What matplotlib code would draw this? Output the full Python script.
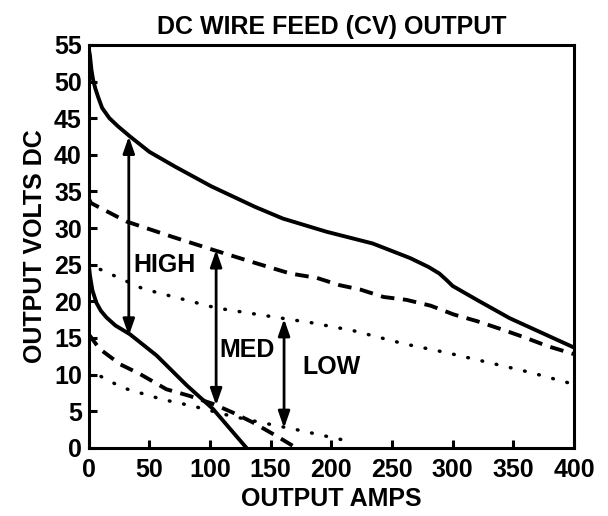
"""DC wire feed (CV) output volt-amp curves."""

import matplotlib

matplotlib.use("Agg")
import matplotlib.pyplot as plt

# HIGH range, max and min (solid)
high_max_amps = [0, 1, 2.2, 3.6, 5.5, 7.7, 11, 17, 24, 34, 50, 71, 101, 137, 160, 196, 234, 248,
                 265, 280, 289, 295, 300, 320, 347, 400]
high_max_volts = [54.5, 53.5, 51.6, 50.2, 49.0, 47.9, 46.4, 45.0, 43.9, 42.5, 40.4, 38.4, 35.7,
                  32.9, 31.3, 29.5, 27.9, 27.0, 25.9, 24.7, 23.8, 22.9, 22.1, 20.2, 17.7, 13.7]
high_min_amps = [0, 1, 3, 6.3, 10, 14.6, 22, 34, 56, 81, 102.5, 130]
high_min_volts = [25.0, 23.5, 21.5, 19.8, 18.7, 17.8, 16.7, 15.5, 12.6, 8.5, 5.3, 0]

# MED range, max and min (dashed)
med_max_amps = [0, 2, 31, 69, 103, 138, 166, 188, 207, 224, 243, 262, 282, 301, 320, 340, 359,
                378, 400]
med_max_volts = [34.0, 33.4, 30.9, 28.8, 27.0, 25.2, 23.8, 23.2, 22.2, 21.6, 20.6, 20.2, 19.4,
                 18.2, 17.3, 16.2, 15.1, 13.9, 12.8]
med_min_amps = [0, 9, 26, 42, 64, 83, 102.5, 119, 135, 155, 168]
med_min_volts = [15.5, 13.5, 11.4, 10.1, 8.0, 7.1, 6.0, 4.8, 3.5, 1.6, 0.3]

# LOW range, max and min (dotted)
low_max_amps = [0, 3.6, 45, 105, 163, 183, 218, 260, 295, 331, 364, 395]
low_max_volts = [25.5, 24.8, 21.7, 19.1, 17.6, 17.1, 16.0, 14.2, 13.0, 11.6, 10.3, 8.9]
low_min_amps = [0, 3.6, 28, 61, 86, 116, 141, 171, 190, 212]
low_min_volts = [10.8, 10.3, 8.2, 6.6, 5.7, 4.4, 3.5, 2.5, 1.8, 1.0]

# range arrows: label, amps, (top, bottom) volts, label position
range_names = ["HIGH", "MED", "LOW"]
range_amps = [33, 105, 161]
range_tops = [42.5, 27.0, 17.6]
range_bottoms = [15.3, 5.8, 2.7]
label_amps = [37, 108, 176]
label_volts = [25, 13.4, 11]

x_ticks = [0, 50, 100, 150, 200, 250, 300, 350, 400]
y_ticks = [0, 5, 10, 15, 20, 25, 30, 35, 40, 45, 50, 55]

plt.rcParams["font.family"] = ["Liberation Sans", "DejaVu Sans"]
plt.rcParams["font.weight"] = "bold"

fig = plt.figure(figsize=(6.08, 5.16), dpi=100)
ax = fig.add_axes([0.146, 0.132, 0.798, 0.781])

lw = 2.8
dashed = (0, (3.5, 2.2))
dotted = (0, (0.2, 4.0))
ax.plot(high_max_amps, high_max_volts, color="black", lw=lw, solid_capstyle="round")
ax.plot(high_min_amps, high_min_volts, color="black", lw=lw, solid_capstyle="round")
ax.plot(med_max_amps, med_max_volts, color="black", lw=lw, linestyle=dashed)
ax.plot(med_min_amps, med_min_volts, color="black", lw=lw, linestyle=dashed)
ax.plot(low_max_amps, low_max_volts, color="black", lw=2.5, linestyle=dotted,
        dash_capstyle="round")
ax.plot(low_min_amps, low_min_volts, color="black", lw=2.5, linestyle=dotted,
        dash_capstyle="round")

for name, amps, top, bottom, lx, ly in zip(range_names, range_amps, range_tops,
                                           range_bottoms, label_amps, label_volts):
    ax.annotate("", xy=(amps, top), xytext=(amps, bottom),
                arrowprops=dict(arrowstyle="<|-|>,head_length=1.0,head_width=0.35",
                                color="black", lw=2.0, shrinkA=0, shrinkB=0))
    ax.text(lx, ly, name, fontsize=18, fontweight="bold", ha="left", va="center")

ax.set_xlim(0, 400)
ax.set_ylim(0, 55)
ax.set_xticks(x_ticks)
ax.set_yticks(y_ticks)
ax.tick_params(direction="in", length=6, width=2.2, labelsize=18, pad=5)
ax.tick_params(axis="x", pad=7)
for label in ax.get_xticklabels() + ax.get_yticklabels():
    label.set_fontweight("bold")
for spine in ax.spines.values():
    spine.set_linewidth(2.2)

ax.set_title("DC WIRE FEED (CV) OUTPUT", fontsize=18, fontweight="bold", pad=8)
ax.set_xlabel("OUTPUT AMPS", fontsize=18, fontweight="bold", labelpad=4)
ax.set_ylabel("OUTPUT VOLTS DC", fontsize=18, fontweight="bold", labelpad=5)

fig.savefig("out.png", dpi=100)
